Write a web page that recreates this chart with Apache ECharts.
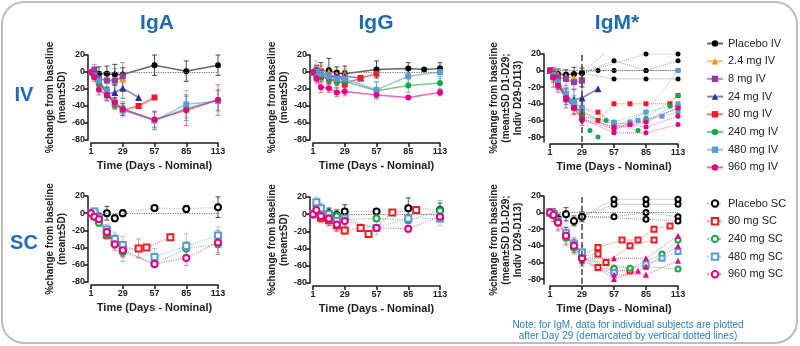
<!DOCTYPE html>
<html><head><meta charset="utf-8">
<script src="https://cdn.jsdelivr.net/npm/echarts@6/dist/echarts.min.js"></script>
<style>html,body{margin:0;padding:0;background:#fff}#c{width:800px;height:346px}</style>
</head><body><div id="c"></div><script>
// ---------- labels / styles of groups ----------
const IV_NAMES = ['Placebo IV','2.4 mg IV','8 mg IV','24 mg IV','80 mg IV','240 mg IV','480 mg IV','960 mg IV'];
const SC_NAMES = ['Placebo SC','80 mg SC','240 mg SC','480 mg SC','960 mg SC'];
const IV_COLORS = ['#000000','#f7941d','#8e3fa0','#2e3192','#ee1c25','#1aa64a','#5b9bd5','#e6007e'];
const SC_COLORS = ['#000000','#ee1c25','#1aa64a','#5b9bd5','#e6007e'];
const IV_SYMBOLS = ['circle','triangle','rect','triangle','rect','circle','rect','circle'];
const SC_SYMBOLS = ['emptyCircle','emptyRect','emptyCircle','emptyRect','emptyCircle'];
const X_TICKS = [1,29,57,85,113];
const Y_TICKS = [-80,-60,-40,-20,0,20];
const PANEL_TITLES = ['IgA','IgG','IgM*'];
const ROW_TITLES = ['IV','SC'];

// ---------- data: [day, mean % change, SD] ----------
const IGA_IV = [
  [[1,0,0],[4,-1,5],[8,-2,8],[15,-2,9],[22,-3,12],[29,-3,8],[57,8,12],[85,1,12],[113,8,12]],
  [[1,0,0],[4,-3,4],[8,-7,5],[15,-9,5],[22,-9,5],[29,-8,4]],
  [[1,0,0],[4,3,6],[8,-8,8],[15,-10,10],[22,-10,14],[29,-5,16]],
  [[1,0,0],[4,-3,5],[8,-10,6],[15,-26,8],[22,-24,8],[29,-19,12],[43,-30,0]],
  [[1,0,0],[4,-5,4],[8,-12,5],[15,-24,6],[22,-37,6],[29,-45,6],[43,-40,0],[57,-30,0]],
  [[1,0,0],[4,-5,4],[8,-13,5],[15,-25,6],[22,-39,5],[29,-43,8],[57,-57,11],[85,-43,14],[113,-33,12]],
  [[1,0,0],[4,-4,4],[8,-10,5],[15,-23,6],[22,-36,6],[29,-45,8],[57,-57,10],[85,-38,16],[113,-34,12]],
  [[1,0,0],[4,-6,5],[8,-21,6],[15,-27,6],[22,-36,6],[29,-44,7],[57,-56,9],[85,-45,18],[113,-33,18]]
];
const IGG_IV = [
  [[1,0,0],[4,1,6],[8,1,10],[15,2,14],[22,-1,7],[29,-2,9],[57,3,10],[85,4,7],[99,3,0],[113,4,7]],
  [[1,0,0],[4,5,8],[8,3,5],[15,0,6],[22,-3,5],[29,-2,6]],
  [[1,0,0],[4,2,6],[8,0,7],[15,-5,8],[22,-6,8],[29,-8,10]],
  [[1,0,0],[4,2,6],[8,-2,6],[15,-4,6],[22,-6,6],[29,-5,6],[43,-7,0]],
  [[1,0,0],[4,-3,6],[8,-5,6],[15,-8,6],[22,-10,6],[29,-14,6],[43,-7,0],[57,-2,0]],
  [[1,0,0],[4,-2,5],[8,-4,6],[15,-8,6],[22,-12,6],[29,-11,6],[57,-22,10],[85,-16,8],[113,-13,8]],
  [[1,0,0],[4,0,6],[8,-2,6],[15,-5,6],[22,-8,6],[29,-8,6],[57,-21,10],[85,-5,8],[113,0,8]],
  [[1,0,0],[4,-8,5],[8,-18,6],[15,-19,5],[22,-24,5],[29,-23,5],[57,-27,0],[85,-30,0],[113,-24,4]]
];
const IGM_IV = [
  [[1,0,0],[4,-3,4],[8,-4,6],[15,-5,6],[22,-4,8],[29,-3,6]],
  [[1,0,0],[4,-2,5],[8,-5,5],[15,-7,5],[22,-9,6],[29,-10,5]],
  [[1,0,0],[4,-4,6],[8,-8,6],[15,-10,8],[22,-14,8],[29,-12,8]],
  [[1,0,0],[4,-5,6],[8,-15,8],[15,-33,12],[22,-35,12],[29,-33,14],[43,-22,0]],
  [[1,0,0],[4,-8,6],[8,-15,6],[15,-30,8],[22,-44,8],[29,-50,8]],
  [[1,0,0],[4,-8,6],[8,-16,6],[15,-30,8],[22,-40,8],[29,-55,8]],
  [[1,0,0],[4,-5,6],[8,-14,6],[15,-28,8],[22,-38,8],[29,-47,8]],
  [[1,0,0],[4,-8,12],[8,-18,8],[15,-33,8],[22,-45,8],[29,-58,8]]
];
const IGA_SC = [
  [[1,0,0],[4,1,4],[8,-4,4],[15,0,8],[22,-6,4],[29,0,4],[57,6,0],[85,5,4],[113,7,12]],
  [[1,0,0],[4,-3,4],[8,-8,4],[15,-25,5],[22,-34,6],[29,-42,8],[43,-41,11],[50,-40,0],[71,-28,0]],
  [[1,0,0],[4,-2,4],[8,-11,4],[15,-24,6],[22,-33,8],[29,-45,11],[57,-59,3],[85,-41,8],[113,-36,10]],
  [[1,0,0],[4,2,4],[8,-5,5],[15,-19,6],[22,-30,8],[29,-37,10],[57,-51,10],[85,-38,14],[113,-26,10]],
  [[1,0,0],[4,-4,4],[8,-7,5],[15,-22,6],[22,-36,7],[29,-43,8],[57,-59,3],[85,-52,9],[113,-34,14]]
];
const IGG_SC = [
  [[1,0,0],[4,2,6],[8,-2,6],[15,1,6],[22,-1,6],[29,3,8],[57,3,0],[85,7,12],[113,5,8]],
  [[1,0,0],[4,2,5],[8,-4,6],[15,-7,6],[22,-13,6],[29,-19,4],[43,-16,0],[50,-23,0],[71,2,0],[92,5,0]],
  [[1,0,0],[4,10,6],[8,5,6],[15,0,6],[22,-2,6],[29,-6,6],[57,-5,0],[85,-7,8],[113,4,12]],
  [[1,0,0],[4,14,6],[8,7,6],[15,0,8],[22,-8,8],[29,-5,8],[57,-16,8],[85,-5,0],[113,-5,8]],
  [[1,0,0],[4,5,6],[8,-2,6],[15,-5,8],[22,-12,8],[29,-8,8],[57,-16,0],[85,-17,4],[113,-3,6]]
];
const IGM_SC = [
  [[1,0,0],[4,-1,4],[8,-8,6],[15,-2,8],[22,-10,6],[29,-5,6]],
  [[1,0,0],[4,-2,4],[8,-10,6],[15,-26,8],[22,-40,8],[29,-52,8]],
  [[1,0,0],[4,-3,8],[8,-12,8],[15,-30,10],[22,-42,8],[29,-55,10]],
  [[1,0,0],[4,-2,6],[8,-10,6],[15,-25,8],[22,-38,8],[29,-48,8]],
  [[1,0,0],[4,-3,8],[8,-12,10],[15,-28,10],[22,-40,8],[29,-55,8]]
];

// ---------- IgM individual subjects after Day 29: [group index, [[day, value], ...]] ----------
const IGM_IV_INDIV = [
  [0, [[29,-3],[43,0],[57,0],[85,0],[113,0]]],
  [0, [[29,-3],[57,12],[85,0],[113,12]]],
  [0, [[29,-3],[57,-10],[85,-10],[113,-10]]],
  [0, [[29,-3],[85,20],[113,20]]],
  [0, [[29,-3],[50,22]]],
  [4, [[29,-45],[43,-50],[57,-63],[71,-65],[85,-60],[113,-45]]],
  [4, [[29,-50],[43,-60],[57,-40],[71,-40],[85,-40],[106,-40],[113,-30]]],
  [5, [[29,-55],[36,-72],[43,-80]]],
  [5, [[29,-55],[50,-60],[57,-65],[78,-72],[85,-57],[113,-30]]],
  [5, [[29,-55],[57,-68],[85,-50],[106,-43],[113,-42]]],
  [6, [[29,-45],[57,-62],[85,-50],[113,0]]],
  [6, [[29,-48],[57,-72],[71,-62],[78,-60],[99,-55],[113,-50]]],
  [6, [[29,-50],[57,-65],[85,-60],[113,-40]]],
  [7, [[29,-58],[57,-75],[85,-75],[113,-65]]],
  [7, [[29,-58],[57,-68],[71,-65],[85,-68],[113,-55]]],
  [7, [[29,-60],[57,-70],[85,-62],[113,-45]]]
];
const IGM_SC_INDIV = [
  [0, [[29,-5],[57,16],[85,16],[113,16]]],
  [0, [[29,-5],[57,10],[85,10],[113,10]]],
  [0, [[29,-5],[57,-5],[85,0],[113,-5]]],
  [0, [[29,-5],[85,-8],[113,-10]]],
  [1, [[29,-52],[43,-42],[64,-33],[78,-33],[92,-20],[106,-16]]],
  [1, [[29,-52],[43,-50],[50,-60],[71,-40],[92,-33]]],
  [1, [[29,-52],[43,-66],[57,-70],[71,-70]]],
  [2, [[29,-55],[57,-67],[85,-65],[113,-68]]],
  [2, [[29,-55],[71,-67],[99,-50],[113,-33]]],
  [3, [[29,-48],[57,-72],[85,-62],[99,-55],[113,-47]]],
  [4, [[29,-55],[57,-55],[85,-55],[113,-28]]],
  [4, [[29,-55],[57,-80],[78,-70],[85,-65],[113,-40]]],
  [4, [[29,-58],[57,-75],[85,-75],[113,-58]]]
];

// ---------- layout ----------
const FONT = "'Liberation Sans', Arial, Helvetica, sans-serif";
const BLUE = '#1c6bb4';
const GRIDS = [
  {left:91, top:55, width:127, height:85},
  {left:313, top:55, width:127, height:85},
  {left:550, top:54, width:128, height:88},
  {left:91, top:196, width:127, height:86},
  {left:313, top:197, width:127, height:86},
  {left:550, top:196, width:128, height:88}
];
const IGM_MIN = -86;

function errBar(color, op) {
  return function (params, api) {
    const x = api.value(0);
    const lo = api.coord([x, api.value(1)]);
    const hi = api.coord([x, api.value(2)]);
    const st = {stroke: color, lineWidth: 1, opacity: op};
    return {type:'group', children:[
      {type:'line', shape:{x1:lo[0], y1:lo[1], x2:hi[0], y2:hi[1]}, style:st},
      {type:'line', shape:{x1:hi[0]-2.5, y1:hi[1], x2:hi[0]+2.5, y2:hi[1]}, style:st},
      {type:'line', shape:{x1:lo[0]-2.5, y1:lo[1], x2:lo[0]+2.5, y2:lo[1]}, style:st}
    ]};
  };
}

const series = [];
function addMeans(gi, data, names, colors, symbols, sc, isIgM) {
  data.forEach((d, k) => {
    const c = colors[k];
    const pbo = k === 0;
    series.push({
      type:'custom', name:'sd', xAxisIndex:gi, yAxisIndex:gi, z:1, silent:true,
      renderItem: errBar(pbo ? '#222' : c, pbo ? 0.8 : (sc ? 0.5 : 0.6)),
      encode:{x:0, y:[1,2]},
      data: d.filter(p => p[2] > 0).map(p => [p[0], p[1]-p[2], p[1]+p[2]])
    });
    const s = {
      type:'line', name:names[k], xAxisIndex:gi, yAxisIndex:gi, z:3,
      data: d.map(p => [p[0], p[1]]),
      symbol: symbols[k],
      symbolSize: symbols[k].indexOf('triangle') >= 0 ? 7 : 6,
      itemStyle: {color: c, borderWidth: sc ? 1.5 : 0},
      lineStyle: sc
        ? {type:'dotted', width:1.2, color: pbo ? '#888' : c, opacity: 0.5}
        : {type:'solid', width:1.5, color: pbo ? '#666' : c, opacity: pbo ? 1 : 0.6},
      emphasis:{disabled:true}, animation:false
    };
    if (pbo) {
      const ml = [{yAxis:0, lineStyle:{type:'dotted', color:'#777', width:1.2}}];
      if (isIgM) ml.push({xAxis:29, lineStyle:{type:'dashed', color:'#444', width:1.5}});
      s.markLine = {silent:true, symbol:'none', label:{show:false}, animation:false, data: ml};
    }
    series.push(s);
  });
}
function addIndiv(gi, indiv, colors, symbols, sc) {
  indiv.forEach(([k, pts]) => {
    const c = colors[k];
    let sym = symbols[k];
    if (sc && k === 4) sym = 'triangle';
    series.push({
      type:'line', name:'indiv', xAxisIndex:gi, yAxisIndex:gi, z:2,
      data: pts,
      symbol: sym, symbolSize: sym.indexOf('triangle') >= 0 ? 6 : 5,
      itemStyle: {color: c, borderWidth: sc ? 1.3 : 0},
      lineStyle: {type:'dotted', width:1, color: k === 0 ? '#666' : c, opacity: 0.6},
      emphasis:{disabled:true}, animation:false
    });
  });
}

addMeans(0, IGA_IV, IV_NAMES, IV_COLORS, IV_SYMBOLS, false, false);
addMeans(1, IGG_IV, IV_NAMES, IV_COLORS, IV_SYMBOLS, false, false);
addIndiv(2, IGM_IV_INDIV, IV_COLORS, IV_SYMBOLS, false);
addMeans(2, IGM_IV, IV_NAMES, IV_COLORS, IV_SYMBOLS, false, true);
addMeans(3, IGA_SC, SC_NAMES, SC_COLORS, SC_SYMBOLS, true, false);
addMeans(4, IGG_SC, SC_NAMES, SC_COLORS, SC_SYMBOLS, true, false);
addIndiv(5, IGM_SC_INDIV, SC_COLORS, SC_SYMBOLS, true);
addMeans(5, IGM_SC, SC_NAMES, SC_COLORS, SC_SYMBOLS, true, true);

const axisColor = '#1a1a1a';
const xAxes = GRIDS.map((g, i) => ({
  gridIndex:i, type:'value', min:1, max:113, interval:28, offset: (i===2||i===5) ? 2 : 3,
  axisLine:{show:true, onZero:false, lineStyle:{color:axisColor, width:1.5}},
  axisTick:{show:true, length:4, lineStyle:{color:axisColor, width:1.5}},
  axisLabel:{fontSize:9, fontWeight:'bold', color:'#222', margin:4, fontFamily:FONT},
  splitLine:{show:false},
  name:'Time (Days - Nominal)', nameLocation:'middle', nameGap:17,
  nameTextStyle:{fontSize:11, fontWeight:'bold', color:'#222', fontFamily:FONT}
}));
const yAxes = GRIDS.map((g, i) => {
  const igm = (i === 2 || i === 5);
  return {
    gridIndex:i, type:'value', min: igm ? IGM_MIN : -80, max:20,
    interval: igm ? undefined : 20, offset: igm ? 6 : 3,
    axisLine:{show:true, onZero:false, lineStyle:{color:axisColor, width:1.5}},
    axisTick:{show:true, length:4, lineStyle:{color:axisColor, width:1.5}, customValues: igm ? Y_TICKS : undefined},
    axisLabel:{fontSize:9, fontWeight:'bold', color:'#222', margin:3, fontFamily:FONT, customValues: igm ? Y_TICKS : undefined},
    splitLine:{show:false},
    name: igm ? '%change from baseline\n(mean±SD D1-D29;\nIndiv D29-D113)' : '%change from baseline\n(mean±SD)',
    nameLocation:'middle', nameRotate:90, nameGap: 16,
    nameTextStyle:{fontSize:10, fontWeight:'bold', color:'#222', lineHeight:12, fontFamily:FONT}
  };
});

const titleCenters = [[157,23],[376,23],[617,23]];
const graphics = [
  {type:'rect', shape:{x:2, y:2, width:795, height:341, r:22}, style:{fill:'none', stroke:'#bdbdbd', lineWidth:2}, silent:true}
];
PANEL_TITLES.forEach((t, i) => graphics.push({type:'text', x:titleCenters[i][0], y:titleCenters[i][1],
  style:{text:t, textAlign:'center', textVerticalAlign:'middle', font:'bold 21px ' + FONT, fill:BLUE}}));
ROW_TITLES.forEach((t, i) => graphics.push({type:'text', x:24, y: i ? 243 : 95,
  style:{text:t, textAlign:'center', textVerticalAlign:'middle', font:'bold 20px ' + FONT, fill:BLUE}}));
graphics.push({type:'text', x:628, y:331, style:{
  text:'Note: for IgM, data for individual subjects are plotted\nafter Day 29 (demarcated by vertical dotted lines)',
  textAlign:'center', textVerticalAlign:'middle', font:'10px ' + FONT, lineHeight:11, fill:'#2a7fc1'}});

const legendCommon = {orient:'vertical', left:701, itemWidth:16, itemHeight:8, itemGap:6.7, selectedMode:false,
  textStyle:{fontSize:11, color:'#222', fontFamily:FONT}};

const chart = echarts.init(document.getElementById('c'), null, {renderer:'canvas'});
chart.setOption({
  animation:false,
  backgroundColor:'#fff',
  grid: GRIDS,
  xAxis: xAxes,
  yAxis: yAxes,
  legend: [
    Object.assign({data: IV_NAMES, top:33}, legendCommon),
    Object.assign({data: SC_NAMES, top:193}, legendCommon)
  ],
  graphic: graphics,
  series: series
});
</script></body></html>
